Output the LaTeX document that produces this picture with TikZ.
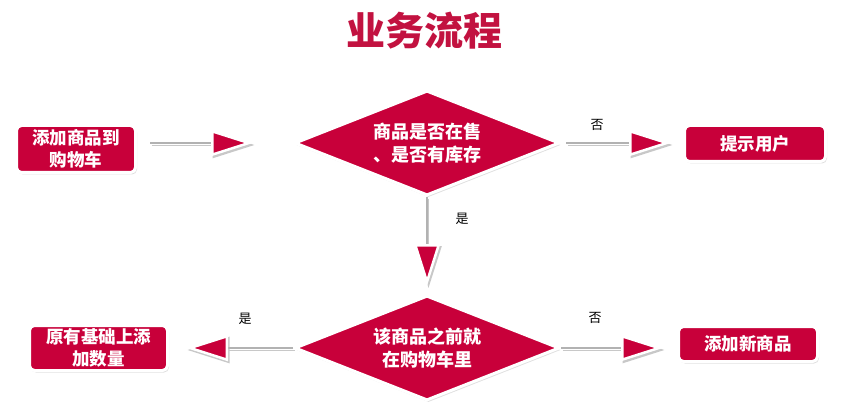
\documentclass[tikz,border=0pt]{standalone}
\usepackage{fontspec}
\setmainfont{Noto Sans CJK SC}
\usetikzlibrary{arrows.meta,shapes.geometric,shadows}
\definecolor{crim}{RGB}{200,0,58}
\definecolor{titlered}{RGB}{194,18,64}
\definecolor{shade}{RGB}{200,200,200}
\tikzset{
 box/.style={rectangle, rounded corners=5pt, draw=white, line width=3pt, fill=crim, text=white,
   font=\bfseries\fontsize{17.5pt}{22pt}\selectfont, align=center, inner sep=0pt,
   drop shadow={shadow xshift=1.5pt, shadow yshift=-2pt, opacity=0.25}},
 decision/.style={diamond, aspect=2.5, draw=white, line width=3pt, fill=crim, text=white,
   font=\bfseries\fontsize{18pt}{22.5pt}\selectfont, align=center, inner sep=0pt,
   minimum width=265pt, minimum height=105pt,
   drop shadow={shadow xshift=1.5pt, shadow yshift=-2pt, opacity=0.25}},
 conn/.style={draw=black!30, line width=2pt,
   -{Triangle[length=42pt,width=26pt,line width=2.5pt,color=white,fill=crim]},
   preaction={draw=shade, transform canvas={xshift=1.5pt,yshift=-2pt},
     -{Triangle[length=42pt,width=26pt,line width=2.5pt,color=shade,fill=shade]}}},
 lbl/.style={font=\fontsize{13pt}{15pt}\selectfont, text=black}
}
\begin{document}
\begin{tikzpicture}[x=1pt,y=-1pt]
\useasboundingbox (0,0) rectangle (843,414);
\node[font=\bfseries\fontsize{39pt}{44pt}\selectfont, text=titlered] (title) at (424,31) {业务流程};
\node[box, minimum width=119pt, minimum height=47pt] (b1) at (76,149) {添加商品到\\购物车};
\node[decision] (d1) at (427,143) {商品是否在售\\、是否有库存};
\node[box, minimum width=141pt, minimum height=36pt] (b2) at (755,143.5) {提示用户};
\node[decision] (d2) at (427,348) {该商品之前就\\在购物车里};
\node[box, minimum width=138pt, minimum height=45pt] (b3) at (98.5,348) {原有基础上添\\加数量};
\node[box, minimum width=139pt, minimum height=35pt] (b4) at (748,344) {添加新商品};
\draw[conn, shorten <=13pt, shorten >=40pt] (b1.east |- d1.west) -- (d1.west);
\draw[conn, shorten <=5pt, shorten >=12pt] (d1.east) -- (d1.east -| b2.west);
\draw[conn, shorten >=8pt] (d1.south) -- (d2.north);
\draw[conn, shorten >=17pt] (d2.west) -- (d2.west -| b3.east);
\draw[conn, shorten >=14pt] (d2.east) -- (d2.east -| b4.west);
\node[lbl] (l1) at (597,125) {否};
\node[lbl] (l2) at (462,219) {是};
\node[lbl] (l3) at (245,319) {是};
\node[lbl] (l4) at (595,318) {否};
\end{tikzpicture}
\end{document}
